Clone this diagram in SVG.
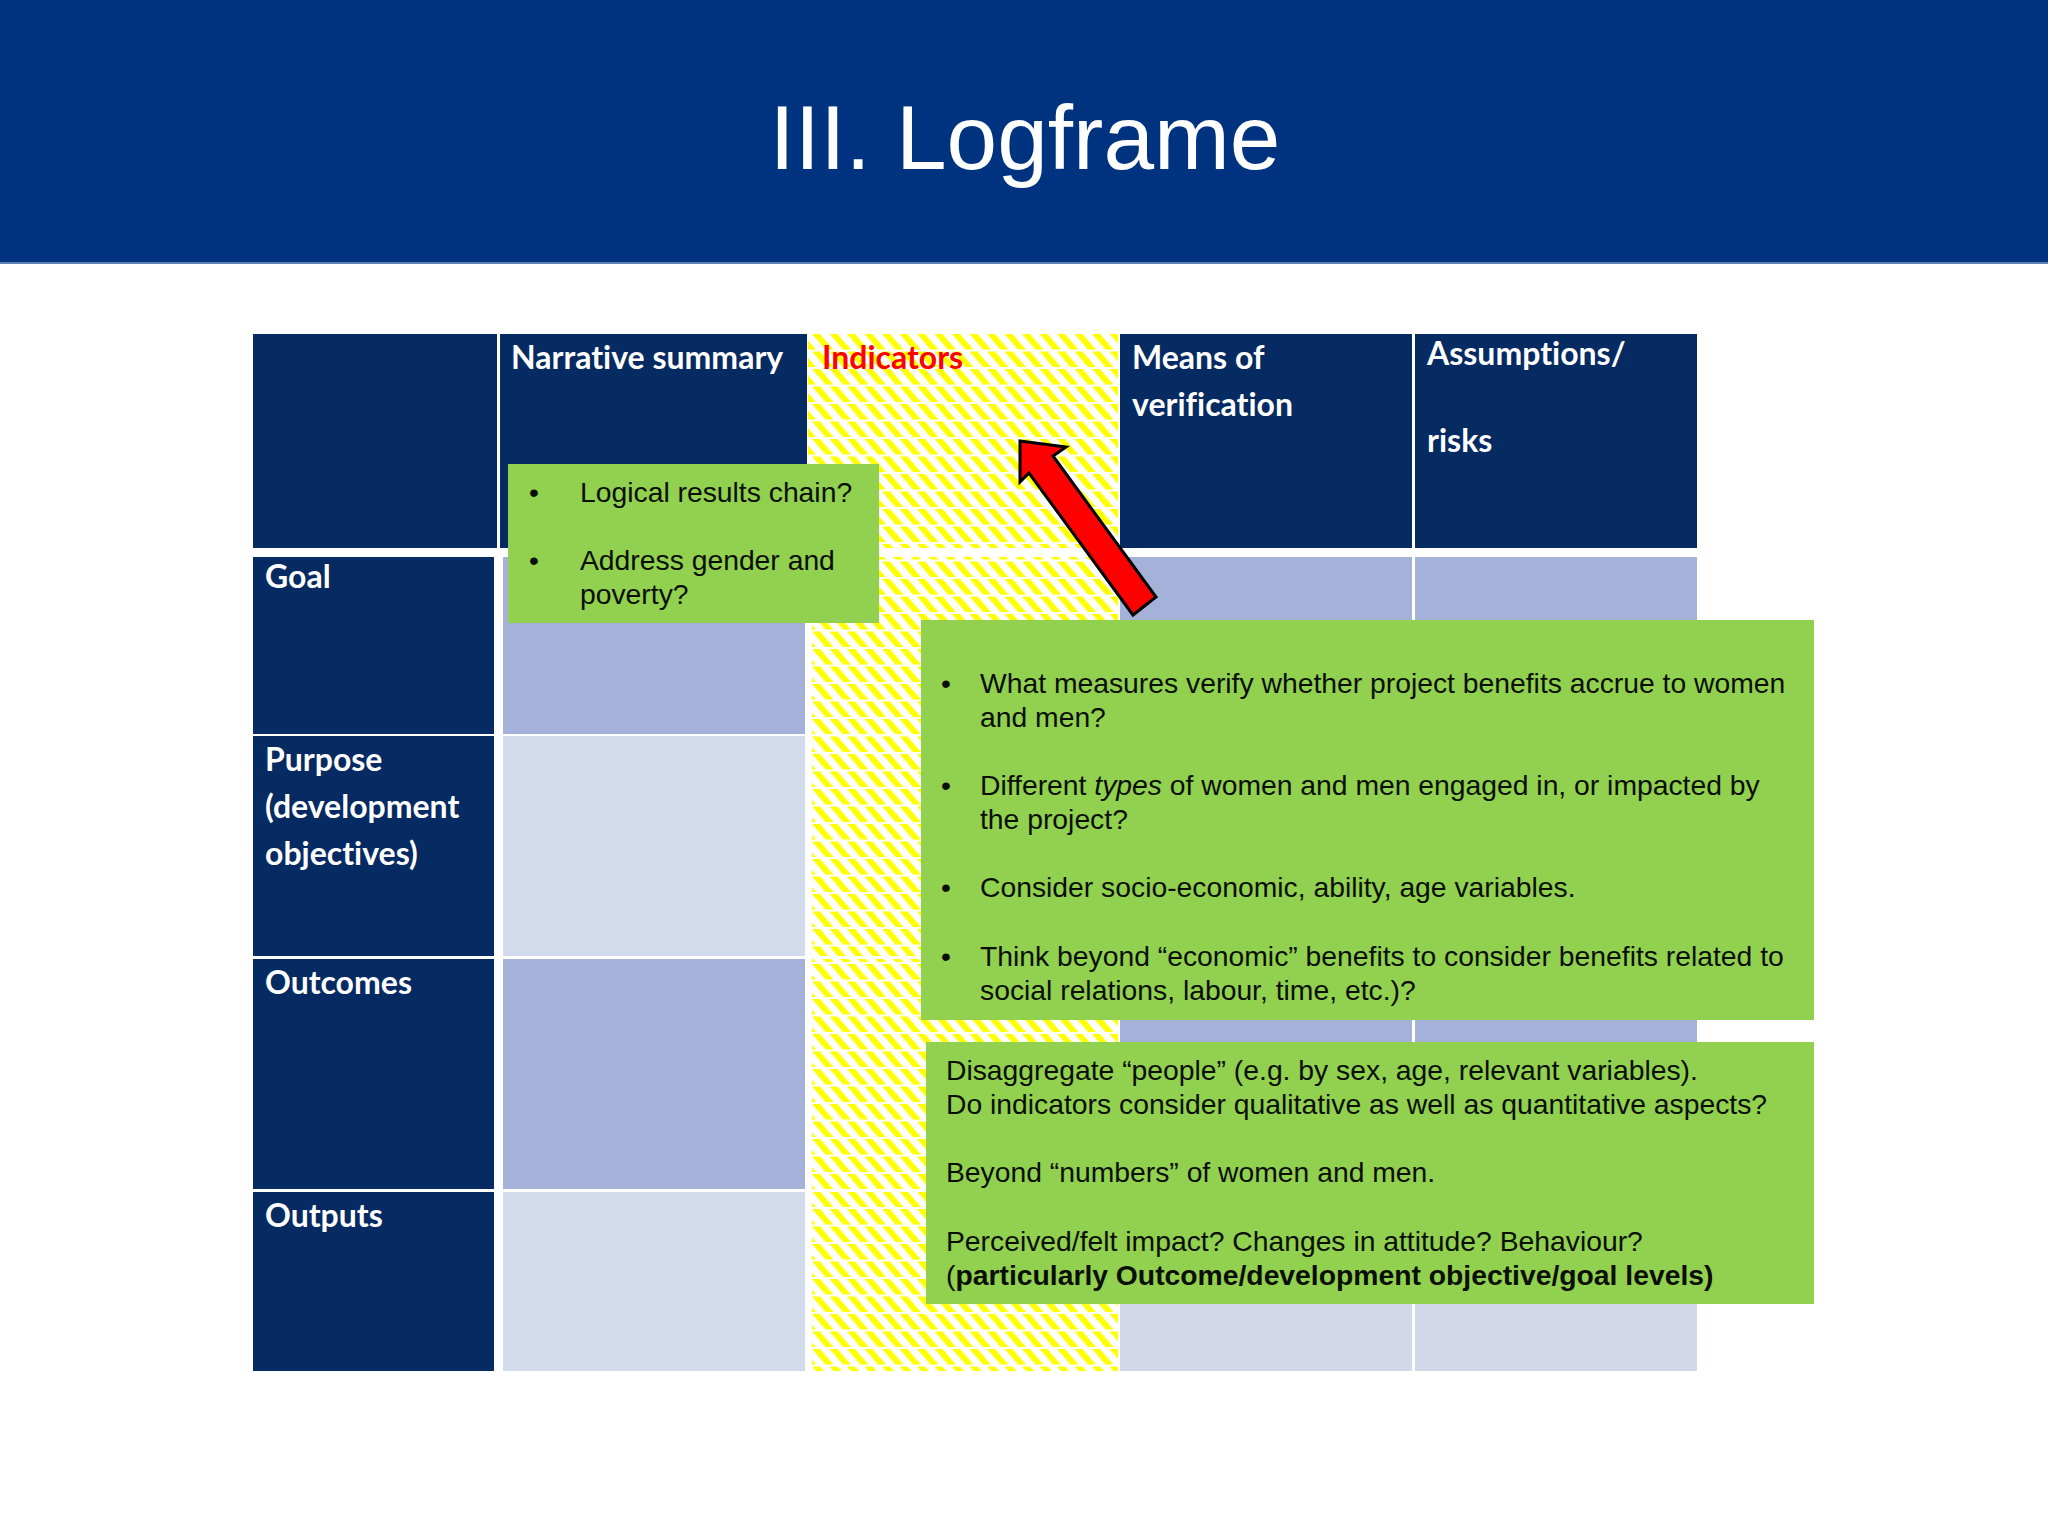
<svg xmlns="http://www.w3.org/2000/svg" width="2048" height="1536" viewBox="0 0 2048 1536">
<style>
.hd{fill:#062a62}
.dk{fill:#a4b1d9}
.lt{fill:#d1dbeb}
.lt2{fill:#d2d8ea}
.gr{fill:#92d050}
.h{font-family:"Lato","Liberation Sans",sans-serif;font-weight:700;font-size:32px;fill:#fff;font-variant-ligatures:none}
.t{font-family:"Liberation Sans",Arial,sans-serif;font-size:28.3px;fill:#0a0f05}
</style>
<defs>
<pattern id="stripes" x="812" y="334" width="17.5" height="17.5" patternUnits="userSpaceOnUse">
<rect width="17.5" height="17.5" fill="#fff"/>
<path d="M-17.5 0L-9.5 0 4 15.5 -4 15.5ZM0 0L8 0 21.5 15.5 13.5 15.5Z" fill="#ffff00"/>
</pattern>
</defs>
<rect width="2048" height="1536" fill="#fff"/>
<g id="title-band">
<rect width="2048" height="262" fill="#00337f"/>
<rect y="262" width="2048" height="2" fill="#5f82b5"/>
<text x="1025" y="169" text-anchor="middle" font-family="Liberation Sans,Arial,sans-serif" font-size="91" fill="#fff">III. Logframe</text>
</g>
<g id="header-row">
<rect class="hd" x="253" y="334" width="244" height="214"/>
<g id="h-narrative"><rect class="hd" x="500" y="334" width="307" height="214"/><text class="h" x="511" y="369">Narrative summary</text></g>
<g id="h-indicators"><rect x="808" y="334" width="310" height="214" fill="url(#stripes)"/><text class="h" x="822" y="369" style="fill:#ff0000">Indicators</text></g>
<g id="h-means"><rect class="hd" x="1120" y="334" width="292" height="214"/><text class="h" x="1132" y="369">Means of</text><text class="h" x="1132" y="416">verification</text></g>
<g id="h-assumptions"><rect class="hd" x="1415" y="334" width="282" height="214"/><text class="h" x="1427" y="365">Assumptions/</text><text class="h" x="1427" y="452">risks</text></g>
</g>
<g id="row-goal">
<rect class="hd" x="253" y="557" width="241" height="177"/><text class="h" x="265" y="588">Goal</text>
<rect class="dk" x="503" y="557" width="302" height="177"/>
<rect x="812" y="557" width="306" height="177" fill="url(#stripes)"/>
<rect class="dk" x="1120" y="557" width="292" height="177"/>
<rect class="dk" x="1415" y="557" width="282" height="177"/>
</g>
<g id="row-purpose">
<rect class="hd" x="253" y="736" width="241" height="220"/><text class="h" x="265" y="771">Purpose</text><text class="h" x="265" y="818">(development</text><text class="h" x="265" y="865">objectives)</text>
<rect class="lt" x="503" y="736" width="302" height="220"/>
<rect x="812" y="736" width="306" height="220" fill="url(#stripes)"/>
<rect class="lt2" x="1120" y="736" width="292" height="220"/>
<rect class="lt2" x="1415" y="736" width="282" height="220"/>
</g>
<g id="row-outcomes">
<rect class="hd" x="253" y="959" width="241" height="230"/><text class="h" x="265" y="994">Outcomes</text>
<rect class="dk" x="503" y="959" width="302" height="230"/>
<rect x="812" y="959" width="306" height="230" fill="url(#stripes)"/>
<rect class="dk" x="1120" y="959" width="292" height="230"/>
<rect class="dk" x="1415" y="959" width="282" height="230"/>
</g>
<g id="row-outputs">
<rect class="hd" x="253" y="1192" width="241" height="179"/><text class="h" x="265" y="1227">Outputs</text>
<rect class="lt" x="503" y="1192" width="302" height="179"/>
<rect x="812" y="1192" width="306" height="179" fill="url(#stripes)"/>
<rect class="lt2" x="1120" y="1192" width="292" height="179"/>
<rect class="lt2" x="1415" y="1192" width="282" height="179"/>
</g>
<g id="callout-narrative">
<rect class="gr" x="508" y="464" width="371" height="159"/>
<text class="t" x="529" y="502">•</text><text class="t" x="580" y="502">Logical results chain?</text>
<text class="t" x="529" y="570">•</text><text class="t" x="580" y="570">Address gender and</text>
<text class="t" x="580" y="604">poverty?</text>
</g>
<g id="connectors">
<polygon points="1020,441 1066,447 1053,456 1156,597 1133,615 1029,473 1020,482" fill="#ff0000" stroke="#000" stroke-width="3" stroke-linejoin="miter"/>
</g>
<g id="callout-indicators">
<rect class="gr" x="921" y="620" width="893" height="400"/>
<text class="t" x="941" y="693">•</text><text class="t" x="980" y="693">What measures verify whether project benefits accrue to women</text>
<text class="t" x="980" y="727">and men?</text>
<text class="t" x="941" y="795">•</text><text class="t" x="980" y="795">Different <tspan font-style="italic">types</tspan> of women and men engaged in, or impacted by</text>
<text class="t" x="980" y="829">the project?</text>
<text class="t" x="941" y="897">•</text><text class="t" x="980" y="897">Consider socio-economic, ability, age variables.</text>
<text class="t" x="941" y="966">•</text><text class="t" x="980" y="966">Think beyond “economic” benefits to consider benefits related to</text>
<text class="t" x="980" y="1000">social relations, labour, time, etc.)?</text>
</g>
<g id="callout-disaggregate">
<rect class="gr" x="926" y="1042" width="888" height="262"/>
<text class="t" x="946" y="1080">Disaggregate “people” (e.g. by sex, age, relevant variables).</text>
<text class="t" x="946" y="1114">Do indicators consider qualitative as well as quantitative aspects?</text>
<text class="t" x="946" y="1182">Beyond “numbers” of women and men.</text>
<text class="t" x="946" y="1251">Perceived/felt impact? Changes in attitude? Behaviour?</text>
<text class="t" x="946" y="1285">(<tspan font-weight="700">particularly Outcome/development objective/goal levels)</tspan></text>
</g>
</svg>
